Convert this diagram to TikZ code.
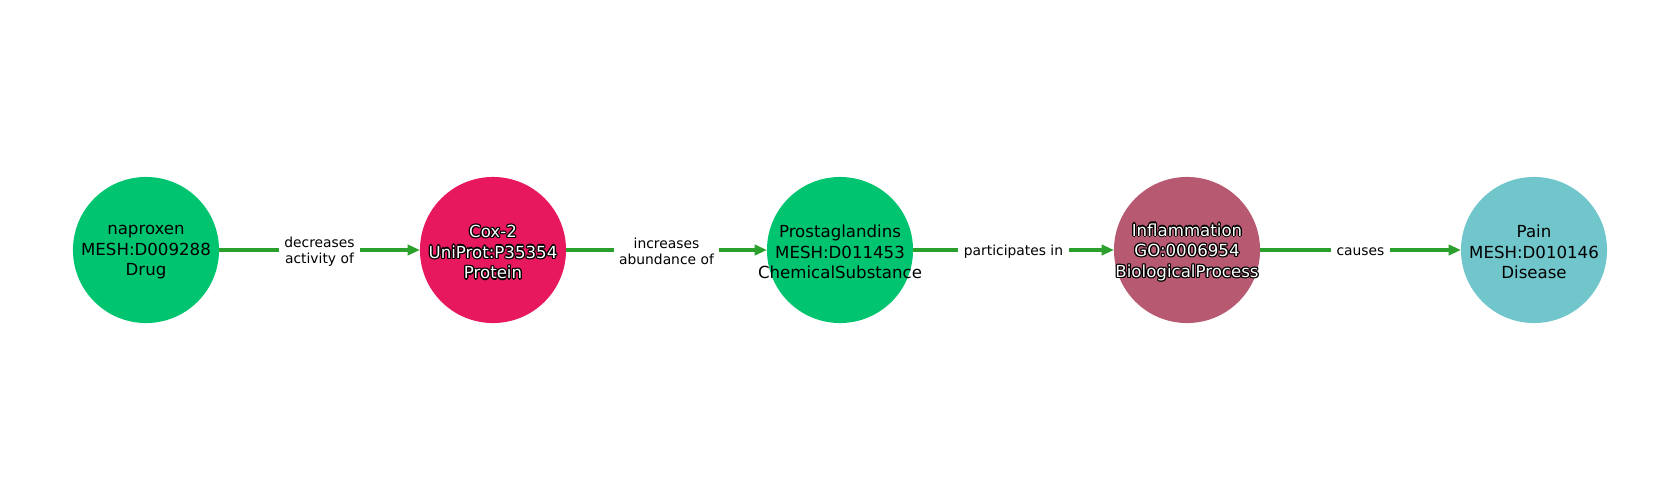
\documentclass[tikz,border=0pt]{standalone}
\usepackage{fontspec}
\setmainfont{DejaVu Sans}
\usetikzlibrary{arrows.meta}

\definecolor{drugcol}{RGB}{0,196,112}
\definecolor{proteincol}{RGB}{232,24,95}
\definecolor{processcol}{RGB}{183,90,113}
\definecolor{diseasecol}{RGB}{112,198,203}
\definecolor{relcol}{RGB}{44,160,44}

% white text with a thin black rim
\newcommand{\outlined}[1]{\leavevmode
\rlap{\kern.9pt\textcolor{black}{#1}}\rlap{\kern-.9pt\textcolor{black}{#1}}%
\rlap{\raisebox{.9pt}{\textcolor{black}{#1}}}\rlap{\raisebox{-.9pt}{\textcolor{black}{#1}}}%
\rlap{\kern.65pt\raisebox{.65pt}{\textcolor{black}{#1}}}\rlap{\kern-.65pt\raisebox{.65pt}{\textcolor{black}{#1}}}%
\rlap{\kern.65pt\raisebox{-.65pt}{\textcolor{black}{#1}}}\rlap{\kern-.65pt\raisebox{-.65pt}{\textcolor{black}{#1}}}%
\textcolor{white}{#1}}

\tikzset{
entity/.style={circle, fill=#1, minimum size=1.46in, inner sep=0pt, outer sep=0pt},
entitytext/.style={inner sep=0pt, align=center, yshift=-1.5pt, font=\fontsize{12}{14.9}\selectfont},
rel/.style={draw=relcol, line width=2.9pt, -{Triangle[length=9pt,width=7.5pt]}},
rellabel/.style={fill=white, inner xsep=4pt, inner ysep=1pt, align=center, yshift=-1.2pt,
  font=\fontsize{10}{11.6}\selectfont}
}

\begin{document}
\begin{tikzpicture}[x=0.01in,y=0.01in]
\useasboundingbox (0,0) rectangle (1680,500);

\node[entity=drugcol, label={[entitytext]center:naproxen\\MESH:D009288\\Drug}] (naproxen) at (146,250) {};
\node[entity=proteincol, label={[entitytext]center:\outlined{Cox-2}\\\outlined{UniProt:P35354}\\\outlined{Protein}}] (cox) at (493,250) {};
\node[entity=drugcol, label={[entitytext]center:Prostaglandins\\MESH:D011453\\ChemicalSubstance}] (prost) at (840,250) {};
\node[entity=processcol, label={[entitytext]center:\outlined{Inflammation}\\\outlined{GO:0006954}\\\outlined{BiologicalProcess}}] (inflam) at (1187,250) {};
\node[entity=diseasecol, label={[entitytext]center:Pain\\MESH:D010146\\Disease}] (pain) at (1534,250) {};

\draw [rel] (naproxen) -- node[rellabel] {decreases\\activity of} (cox);
\draw [rel] (cox) -- node[rellabel] {increases\\abundance of} (prost);
\draw [rel] (prost) -- node[rellabel] {participates in} (inflam);
\draw [rel] (inflam) -- node[rellabel] {causes} (pain);

\end{tikzpicture}
\end{document}
